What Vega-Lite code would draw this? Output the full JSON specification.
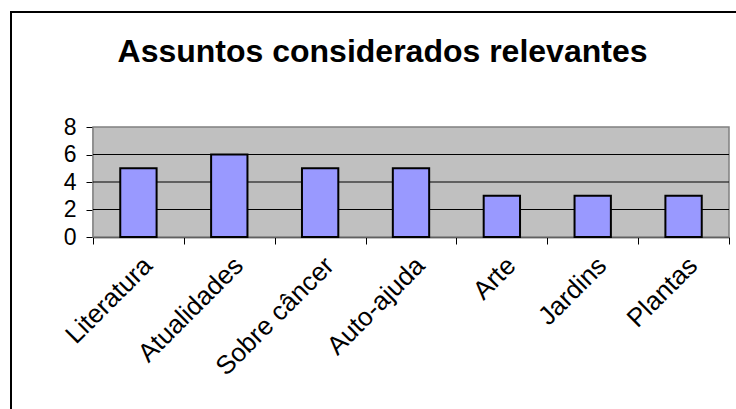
{
  "$schema": "https://vega.github.io/schema/vega-lite/v6.json",
  "width": 727,
  "height": 399,
  "autosize": {"type": "none"},
  "padding": {"left": 11, "top": 12, "right": -2, "bottom": -2},
  "background": "white",
  "config": {
    "view": {"stroke": "black", "strokeWidth": 2, "fill": "white"},
    "font": "Liberation Sans"
  },
  "title": {
    "text": "Assuntos considerados relevantes",
    "font": "Liberation Sans",
    "fontSize": 32,
    "fontWeight": "bold",
    "color": "black",
    "anchor": "middle",
    "frame": "group",
    "baseline": "alphabetic",
    "offset": -82,
    "dx": 8
  },
  "resolve": {"scale": {"x": "independent"}, "axis": {"x": "independent"}},
  "layer": [
    {
      "data": {"values": [{"area": "plot"}]},
      "mark": {"type": "rect", "fill": "#c0c0c0", "stroke": "#808080", "strokeWidth": 1.5},
      "encoding": {
        "x": {"datum": 0, "type": "quantitative", "scale": {"domain": [0, 1], "range": [82, 718], "nice": false, "zero": false}, "axis": null},
        "x2": {"datum": 1},
        "y": {"datum": 0, "type": "quantitative", "scale": {"domain": [0, 8], "range": [225, 115], "nice": false}},
        "y2": {"datum": 8}
      }
    },
    {
      "data": {"values": [{"g": 2}, {"g": 4}, {"g": 6}]},
      "mark": {"type": "rule", "color": "black", "strokeWidth": 1},
      "encoding": {
        "x": {"datum": 0, "type": "quantitative", "scale": {"domain": [0, 1], "range": [82, 718], "nice": false, "zero": false}, "axis": null},
        "x2": {"datum": 1},
        "y": {"field": "g", "type": "quantitative"}
      }
    },
    {
      "data": {"values": [
        {"assunto": "Literatura", "valor": 5},
        {"assunto": "Atualidades", "valor": 6},
        {"assunto": "Sobre câncer", "valor": 5},
        {"assunto": "Auto-ajuda", "valor": 5},
        {"assunto": "Arte", "valor": 3},
        {"assunto": "Jardins", "valor": 3},
        {"assunto": "Plantas", "valor": 3}
      ]},
      "mark": {"type": "bar", "fill": "#9999ff", "stroke": "black", "strokeWidth": 2, "width": {"band": 0.4}},
      "encoding": {
        "x": {
          "field": "assunto", "type": "nominal", "sort": null,
          "scale": {"range": [82, 718], "paddingInner": 0, "paddingOuter": 0},
          "axis": {
            "title": null, "orient": "bottom", "offset": -174,
            "tickBand": "extent", "tickSize": 7, "tickColor": "black", "tickWidth": 1,
            "domainColor": "black", "domainWidth": 1.5,
            "labelAngle": -45, "labelFontSize": 26, "labelColor": "black",
            "labelFont": "Liberation Sans", "labelPadding": 8, "labelOffset": 0
          }
        },
        "y": {
          "field": "valor", "type": "quantitative",
          "axis": {
            "title": null, "orient": "left", "offset": -82,
            "values": [0, 2, 4, 6, 8], "grid": false,
            "tickSize": 7, "tickColor": "black", "tickWidth": 1,
            "domainColor": "black", "domainWidth": 1.5,
            "labelFontSize": 23, "labelColor": "black",
            "labelFont": "Liberation Sans", "labelPadding": 10
          }
        }
      }
    }
  ]
}
